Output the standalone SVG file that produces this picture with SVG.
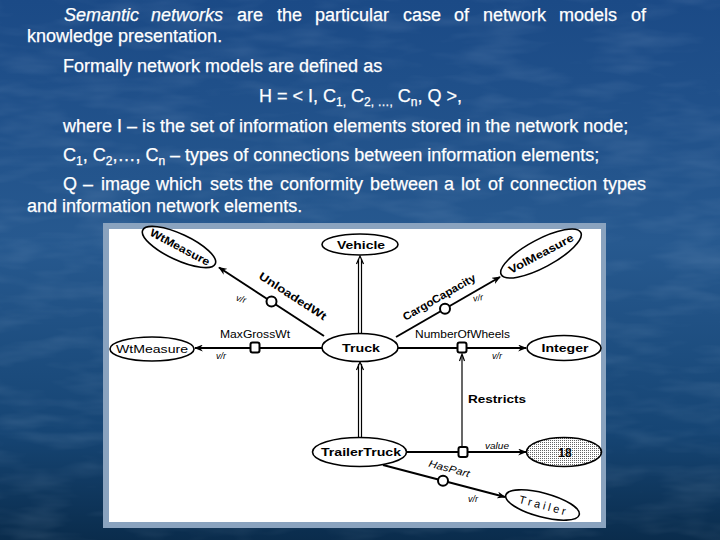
<svg xmlns="http://www.w3.org/2000/svg" width="720" height="540" viewBox="0 0 720 540">
<defs>
<linearGradient id="bg" x1="0" y1="0" x2="0" y2="1">
<stop offset="0" stop-color="#1b4a86"/>
<stop offset="0.45" stop-color="#27598f"/>
<stop offset="0.8" stop-color="#164574"/>
<stop offset="1" stop-color="#0a2c4c"/>
</linearGradient>
<filter id="tex" x="0" y="0" width="100%" height="100%">
<feTurbulence type="fractalNoise" baseFrequency="0.015 0.06" numOctaves="3" seed="4"/>
<feColorMatrix type="matrix" values="0 0 0 0 0.75  0 0 0 0 0.85  0 0 0 0 1  0 0 0 0.9 -0.38"/>
</filter>
<pattern id="dots" width="2" height="2" patternUnits="userSpaceOnUse"><rect width="2" height="2" fill="#fff"/><rect width="1" height="1" fill="#666"/></pattern>
<marker id="ah" viewBox="0 0 10 8" refX="9" refY="4" markerWidth="9" markerHeight="7" markerUnits="userSpaceOnUse" orient="auto"><path d="M0,0 L10,4 L0,8 L3,4 z" fill="#000"/></marker>
<style>
.t{font-family:"Liberation Sans",Arial,sans-serif;font-size:18px;fill:#fff;stroke:#fff;stroke-width:0.25}
.it{font-style:italic}
.sub{font-size:12px}
.n{fill:#fff;stroke:#000;stroke-width:1.6}
.lb{font-family:"Liberation Sans",Arial,sans-serif;font-size:11px;font-weight:bold;fill:#000;text-anchor:middle}
.lr{font-family:"Liberation Sans",Arial,sans-serif;font-size:11px;fill:#000;text-anchor:middle}
.li{font-family:"Liberation Sans",Arial,sans-serif;font-size:9px;font-style:italic;fill:#000;text-anchor:middle}
.rel{stroke:#000;stroke-width:2;fill:none}
.thin{stroke:#000;stroke-width:1.2;fill:none}
.box{fill:#fff;stroke:#000;stroke-width:2}
</style>
</defs>
<rect width="720" height="540" fill="url(#bg)"/>
<rect width="720" height="540" filter="url(#tex)" opacity="0.22"/>
<g id="text">
<text class="t" y="21"><tspan class="it" x="64">Semantic</tspan><tspan class="it" x="151">networks</tspan><tspan x="237">are</tspan><tspan x="277">the</tspan><tspan x="315">particular</tspan><tspan x="403">case</tspan><tspan x="454">of</tspan><tspan x="483">network</tspan><tspan x="559">models</tspan><tspan x="631">of</tspan></text>
<text class="t" x="27" y="42">knowledge presentation.</text>
<text class="t" x="63" y="72">Formally network models are defined as</text>
<text class="t" x="259" y="102">H = &lt; I, C<tspan class="sub" dy="4">1,</tspan><tspan dy="-4"> C</tspan><tspan class="sub" dy="4">2, …,</tspan><tspan dy="-4"> C</tspan><tspan class="sub" dy="4">n</tspan><tspan dy="-4">, Q &gt;,</tspan></text>
<text class="t" x="63" y="132">where I – is the set of information elements stored in the network node;</text>
<text class="t" x="63" y="161">C<tspan class="sub" dy="4">1</tspan><tspan dy="-4">, C</tspan><tspan class="sub" dy="4">2</tspan><tspan dy="-4">,…, C</tspan><tspan class="sub" dy="4">n</tspan><tspan dy="-4"> – types of connections between information elements;</tspan></text>
<text class="t" y="190"><tspan x="63">Q</tspan><tspan x="83">–</tspan><tspan x="101">image</tspan><tspan x="156">which</tspan><tspan x="210">sets</tspan><tspan x="248">the</tspan><tspan x="280">conformity</tspan><tspan x="370">between</tspan><tspan x="444">a</tspan><tspan x="461">lot</tspan><tspan x="488">of</tspan><tspan x="510">connection</tspan><tspan x="603">types</tspan></text>
<text class="t" x="27" y="212">and information network elements.</text>
</g>
<g id="frame">
<rect x="103" y="223" width="503" height="305" fill="#8aa3bf"/>
<rect x="109" y="229" width="492" height="293" fill="#fff"/>
</g>
<g id="connectors">
<line class="thin" x1="358.5" y1="333" x2="358.5" y2="259"/>
<line class="thin" x1="361.5" y1="333" x2="361.5" y2="259"/>
<path class="thin" d="M356.5,264 L360,256 L363.5,264"/>
<line class="thin" x1="358.5" y1="438" x2="358.5" y2="364"/>
<line class="thin" x1="361.5" y1="438" x2="361.5" y2="364"/>
<path class="thin" d="M356.5,370 L360,362 L363.5,370"/>
<line class="rel" x1="324" y1="336" x2="219" y2="267.5" marker-end="url(#ah)"/>
<circle class="box" cx="271.5" cy="301.5" r="5"/>
<text class="lb" transform="translate(293,296) rotate(33)" y="4" textLength="78" lengthAdjust="spacingAndGlyphs">UnloadedWt</text>
<text class="li" x="241" y="302" transform="rotate(15 241 299)">v/r</text>
<line class="rel" x1="396" y1="337" x2="500" y2="277" marker-end="url(#ah)"/>
<circle class="box" cx="445" cy="308.7" r="5"/>
<text class="lb" transform="translate(439,297) rotate(-30)" y="4" textLength="82" lengthAdjust="spacingAndGlyphs">CargoCapacity</text>
<text class="li" x="478" y="301" transform="rotate(-10 478 298)">v/r</text>
<line class="rel" x1="322" y1="348" x2="195" y2="348" marker-end="url(#ah)"/>
<rect class="box" x="250.5" y="342.5" width="9" height="10" rx="2"/>
<text class="lr" x="255" y="338" textLength="70" lengthAdjust="spacingAndGlyphs">MaxGrossWt</text>
<text class="li" x="221" y="359">v/r</text>
<line class="rel" x1="398" y1="348" x2="526" y2="348" marker-end="url(#ah)"/>
<rect class="box" x="457.5" y="342.5" width="9" height="10" rx="2"/>
<text class="lr" x="462.5" y="338" textLength="95" lengthAdjust="spacingAndGlyphs">NumberOfWheels</text>
<text class="li" x="497" y="359">v/r</text>
<line class="thin" x1="462" y1="447" x2="462" y2="355"/>
<path class="thin" d="M459.5,361 L462,354 L464.5,361"/>
<text class="lb" x="497" y="403" textLength="58" lengthAdjust="spacingAndGlyphs">Restricts</text>
<line class="rel" x1="407" y1="452" x2="526" y2="452" marker-end="url(#ah)"/>
<rect class="box" x="458.5" y="447" width="9" height="10" rx="2"/>
<text class="li" x="497" y="449" textLength="24" lengthAdjust="spacingAndGlyphs">value</text>
<line class="rel" x1="383" y1="465" x2="505" y2="497" stroke-width="1.8" marker-end="url(#ah)"/>
<circle class="box" cx="443" cy="480.7" r="5"/>
<text class="li" transform="translate(449,469) rotate(15)" y="3" style="font-size:10px" textLength="42" lengthAdjust="spacingAndGlyphs">HasPart</text>
<text class="li" x="473" y="502">v/r</text>
</g>
<g id="vehicle">
<ellipse class="n" cx="360" cy="244.5" rx="38" ry="10.5"/>
<text class="lb" x="361" y="248.5" textLength="48" lengthAdjust="spacingAndGlyphs">Vehicle</text>
</g>
<g id="truck">
<ellipse class="n" cx="360" cy="347.5" rx="38" ry="14"/>
<text class="lb" x="361" y="351.5" textLength="38" lengthAdjust="spacingAndGlyphs">Truck</text>
</g>
<g id="trailertruck">
<ellipse class="n" cx="359.5" cy="452" rx="47" ry="14.5"/>
<text class="lb" x="361" y="456" textLength="80" lengthAdjust="spacingAndGlyphs">TrailerTruck</text>
</g>
<g id="integer">
<ellipse class="n" cx="564" cy="348" rx="37" ry="12.5"/>
<text class="lb" x="565" y="352" textLength="47" lengthAdjust="spacingAndGlyphs">Integer</text>
</g>
<g id="value18">
<ellipse class="n" cx="564" cy="452" rx="37.5" ry="14.5" style="fill:url(#dots)"/>
<text class="lb" x="565" y="456.5" style="font-size:12px">18</text>
</g>
<g id="wtmeasure-top">
<ellipse class="n" cx="179" cy="247" rx="40" ry="13" transform="rotate(25 179 247)"/>
<text class="lb" transform="translate(180,247) rotate(28)" y="4" textLength="66" lengthAdjust="spacingAndGlyphs">WtMeasure</text>
</g>
<g id="volmeasure">
<ellipse class="n" cx="541" cy="253.5" rx="45" ry="14" transform="rotate(-28 541 253.5)"/>
<text class="lb" transform="translate(541,253.5) rotate(-28)" y="4" textLength="72" lengthAdjust="spacingAndGlyphs">VolMeasure</text>
</g>
<g id="wtmeasure-left">
<ellipse class="n" cx="152" cy="349" rx="42" ry="12"/>
<text class="lr" x="152" y="353" textLength="72" lengthAdjust="spacingAndGlyphs">WtMeasure</text>
</g>
<g id="trailer">
<ellipse class="n" cx="542.5" cy="505" rx="38" ry="12" transform="rotate(15 542.5 505)"/>
<text class="lr" transform="translate(542.5,505) rotate(15)" y="4" textLength="48" lengthAdjust="spacing">Trailer</text>
</g>
</svg>
